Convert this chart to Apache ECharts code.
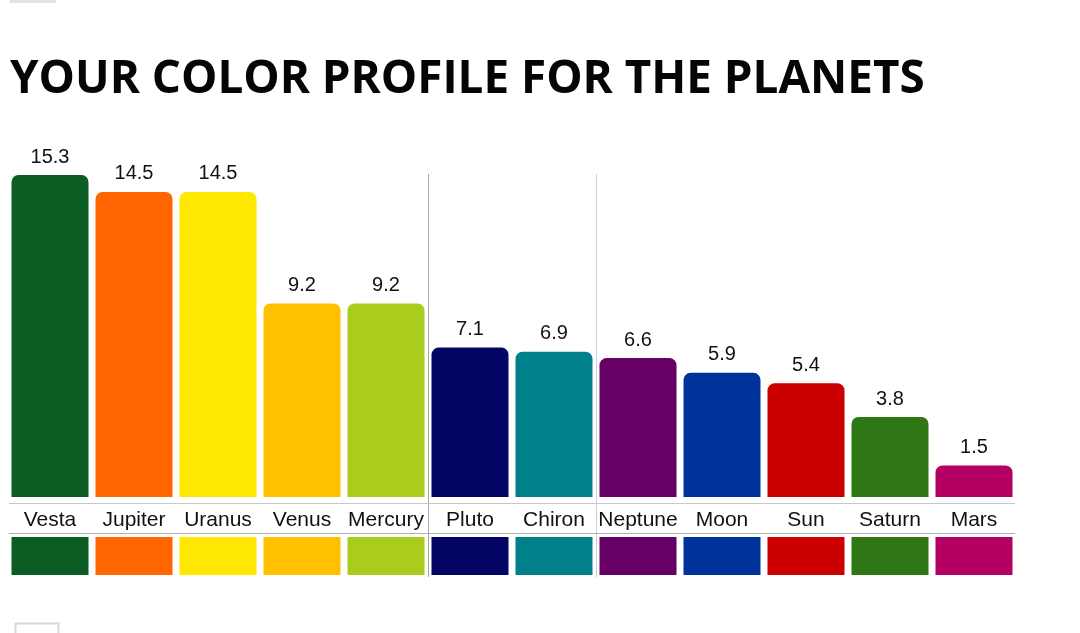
<!DOCTYPE html>
<html>
<head>
<meta charset="utf-8">
<script src="https://cdn.jsdelivr.net/npm/echarts@6/dist/echarts.min.js"></script>
<style>
html,body{margin:0;padding:0;background:#fff;}
#chart{width:1080px;height:633px;}
</style>
</head>
<body>
<div id="chart"></div>
<script>
const titleText = 'YOUR COLOR PROFILE FOR THE PLANETS';
const planets = ['Vesta','Jupiter','Uranus','Venus','Mercury','Pluto','Chiron','Neptune','Moon','Sun','Saturn','Mars'];
const scores = [15.3, 14.5, 14.5, 9.2, 9.2, 7.1, 6.9, 6.6, 5.9, 5.4, 3.8, 1.5];
const colors = ['#0b5d23','#ff6600','#ffe800','#ffc000','#aacc1c','#050566','#00808b','#660066','#003399','#cc0000','#2f7714','#b30062'];
const separatorsBefore = [5, 7];
const swatchValues = planets.map(() => 1);

const chart = echarts.init(document.getElementById('chart'));
const L = 8, W = 1008;
const font = 'Liberation Sans, Arial, sans-serif';
const n = planets.length;
const option = {
  animation: false,
  backgroundColor: '#fff',
  title: {
    text: titleText, left: 5, top: 52,
    textStyle: { fontFamily: 'Open Sans', fontWeight: 'bold', fontSize: 45.8, color: '#050505' }
  },
  graphic: [
    { type: 'rect', left: 10, top: 0, shape: { width: 46, height: 3 }, style: { fill: '#e2e2e2' } },
    { type: 'rect', left: 13, top: 621, shape: { width: 43, height: 14 }, style: { fill: 'none', stroke: '#d8d8d8', lineWidth: 2 } }
  ],
  grid: [
    { left: L, width: W, top: 174, height: 323 },
    { left: L, width: W, top: 537, height: 38 },
    { left: L, width: W, top: 174, height: 403 }
  ],
  xAxis: [
    { type: 'category', gridIndex: 0, data: planets, axisLine: { show: false }, axisTick: { show: false },
      axisLabel: { show: true, interval: 0, margin: 13, fontSize: 21, fontFamily: font, color: '#111' },
      splitLine: { show: false } },
    { type: 'category', gridIndex: 1, data: planets, show: false },
    { type: 'value', gridIndex: 2, min: 0, max: n, show: false }
  ],
  yAxis: [
    { type: 'value', gridIndex: 0, min: 0, max: 15.35, show: false, splitLine: { show: false } },
    { type: 'value', gridIndex: 1, min: 0, max: 1, show: false, splitLine: { show: false } },
    { type: 'value', gridIndex: 2, min: 0, max: 403, inverse: true, show: false, splitLine: { show: false } }
  ],
  series: [
    { type: 'bar', xAxisIndex: 0, yAxisIndex: 0, barWidth: 77,
      data: scores.map((v, i) => ({ value: v, itemStyle: { color: colors[i] } })),
      itemStyle: { borderRadius: [7, 7, 0, 0] },
      label: { show: true, position: 'top', distance: 8, fontSize: 20, fontFamily: font, color: '#111' } },
    { type: 'bar', xAxisIndex: 1, yAxisIndex: 1, barWidth: 77, silent: true,
      data: swatchValues.map((v, i) => ({ value: v, itemStyle: { color: colors[i] } })) },
    { type: 'line', xAxisIndex: 2, yAxisIndex: 2, data: [], silent: true,
      markLine: {
        silent: true, symbol: 'none', label: { show: false },
        data: [
          { xAxis: separatorsBefore[0], lineStyle: { color: '#a8a8a8', width: 1, type: 'solid' } },
          { xAxis: separatorsBefore[1], lineStyle: { color: '#cfcfcf', width: 1, type: 'solid' } },
          [{ coord: [0.01, 329], lineStyle: { color: '#c8c8c8', width: 1, type: 'solid' } }, { coord: [n - 0.01, 329] }],
          [{ coord: [0.01, 359], lineStyle: { color: '#b0b0b0', width: 1, type: 'solid' } }, { coord: [n - 0.01, 359] }]
        ]
      } }
  ]
};
chart.setOption(option);
</script>
</body>
</html>
